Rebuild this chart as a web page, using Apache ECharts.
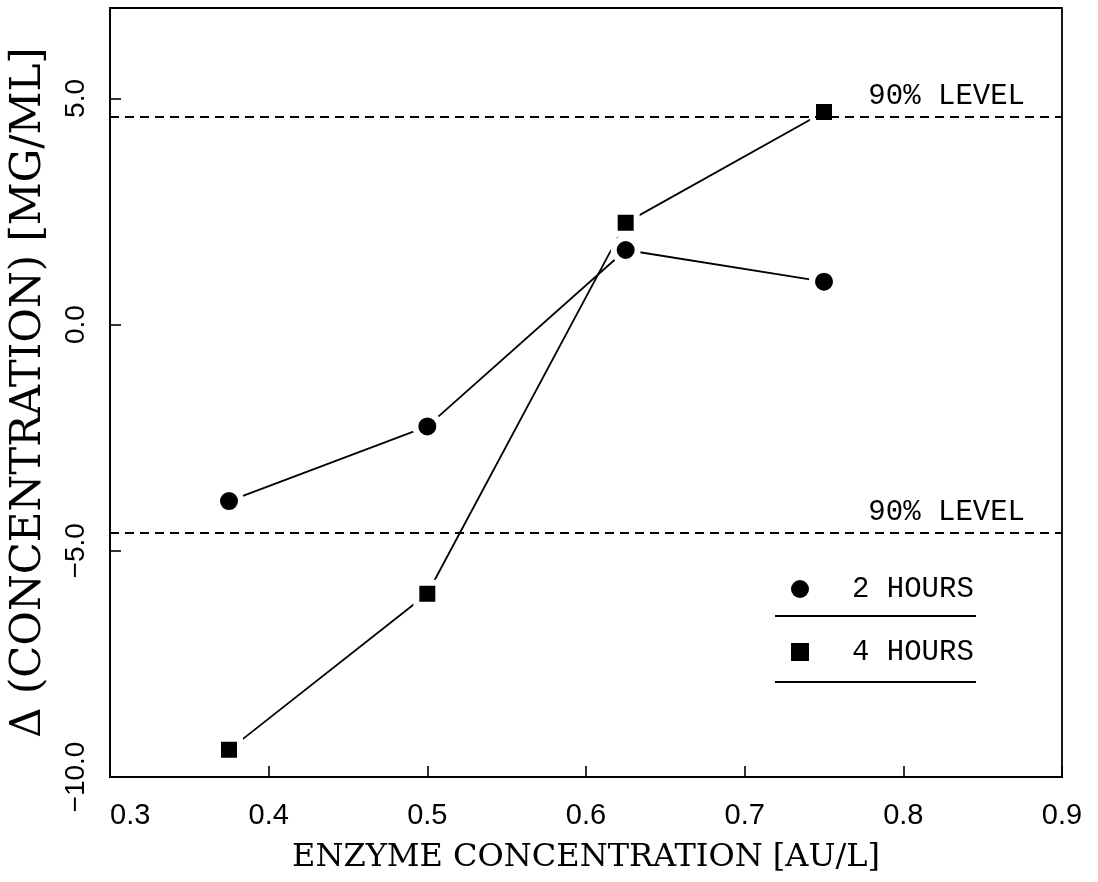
<!DOCTYPE html>
<html><head><meta charset="utf-8">
<script src="https://cdn.jsdelivr.net/npm/echarts@6/dist/echarts.min.js"></script>
<style>html,body{margin:0;padding:0;background:#fff}#c{width:1098px;height:882px}</style>
</head><body><div id="c"></div>
<script>
// ---- data ----
const enzyme = [0.375, 0.5, 0.625, 0.75];          // AU/L
const hours2 = [-3.9, -2.25, 1.65, 0.95];           // 2 HOURS (circles)
const hours4 = [-9.4, -5.95, 2.25, 4.7];            // 4 HOURS (squares)
const levels = [4.6, -4.6];                         // 90% LEVEL lines
const xTickValues = [0.3, 0.4, 0.5, 0.6, 0.7, 0.8, 0.9];
const xTickLabels = ['0.3', '0.4', '0.5', '0.6', '0.7', '0.8', '0.9'];
const yTickValues = [-10, -5, 0, 5];
const yTickLabels = ['\u221210.0', '\u22125.0', '0.0', '5.0'];
const seriesNames = ['2 HOURS', '4 HOURS'];
const levelLabel = '90% LEVEL';

const mono = 'Liberation Mono';
const serif = 'DejaVu Serif';
const sans = 'Liberation Sans';

function lookup(vals, labels, v) {
  for (let i = 0; i < vals.length; i++) if (Math.abs(vals[i] - v) < 1e-6) return labels[i];
  return '';
}

const chart = echarts.init(document.getElementById('c'), null, {renderer: 'canvas'});
chart.setOption({
  animation: false,
  backgroundColor: '#fff',
  grid: {left: 107, right: 36, top: 8, bottom: 105, show: true, borderColor: '#000', borderWidth: 1.8, containLabel: false},
  xAxis: {
    type: 'value', min: 0.3, max: 0.9, interval: 0.1,
    name: 'ENZYME CONCENTRATION [AU/L]', nameLocation: 'middle', nameGap: 65,
    nameTextStyle: {fontFamily: serif, fontSize: 32, color: '#000'},
    axisLine: {onZero: false, lineStyle: {color: '#000', width: 1.8}},
    axisTick: {inside: true, length: 11, lineStyle: {color: '#000', width: 1.6}},
    axisLabel: {margin: 24, fontFamily: sans, fontSize: 29, color: '#000', alignMinLabel: 'left',
      formatter: v => lookup(xTickValues, xTickLabels, v)},
    splitLine: {show: false}
  },
  yAxis: {
    type: 'value', min: -10, max: 7, interval: 5,
    name: '\u0394 (CONCENTRATION) [MG/ML]', nameLocation: 'middle', nameGap: 60, nameRotate: 90,
    nameTextStyle: {fontFamily: serif, fontSize: 42, color: '#000'},
    axisLine: {onZero: false, lineStyle: {color: '#000', width: 1.8}},
    axisTick: {inside: true, length: 11, lineStyle: {color: '#000', width: 1.6}},
    axisLabel: {rotate: 90, margin: 20, fontFamily: sans, fontSize: 28, color: '#000',
      formatter: v => lookup(yTickValues, yTickLabels, v)},
    splitLine: {show: false}
  },
  legend: {
    orient: 'vertical', left: 791, top: 574, padding: 0, itemGap: 33,
    itemWidth: 18, itemHeight: 18,
    itemStyle: {borderWidth: 0, color: '#000'},
    textStyle: {fontFamily: mono, fontSize: 29, lineHeight: 30, color: '#000', padding: [0, 0, 0, 38]},
    data: [{name: seriesNames[0], icon: 'circle'}, {name: seriesNames[1], icon: 'rect'}],
    selectedMode: false
  },
  graphic: [
    {type: 'line', shape: {x1: 775, y1: 616, x2: 976, y2: 616}, style: {stroke: '#000', lineWidth: 1.8}},
    {type: 'line', shape: {x1: 775, y1: 682, x2: 976, y2: 682}, style: {stroke: '#000', lineWidth: 1.8}}
  ],
  series: [
    {
      name: seriesNames[0], type: 'line',
      data: enzyme.map((x, i) => [x, hours2[i]]),
      symbol: 'circle', symbolSize: 24,
      itemStyle: {color: '#000', borderColor: '#fff', borderWidth: 6},
      lineStyle: {color: '#000', width: 1.8},
      markLine: {
        silent: true, symbol: ['none', 'none'],
        lineStyle: {color: '#000', width: 1.8, type: [9, 6]},
        label: {show: true, formatter: levelLabel, position: 'insideEndTop', distance: [37, 6],
          fontFamily: mono, fontSize: 29, color: '#000'},
        data: levels.map(v => ({yAxis: v}))
      }
    },
    {
      name: seriesNames[1], type: 'line',
      data: enzyme.map((x, i) => [x, hours4[i]]),
      symbol: 'rect', symbolSize: 22,
      itemStyle: {color: '#000', borderColor: '#fff', borderWidth: 6},
      lineStyle: {color: '#000', width: 1.8}
    }
  ]
});
</script></body></html>
